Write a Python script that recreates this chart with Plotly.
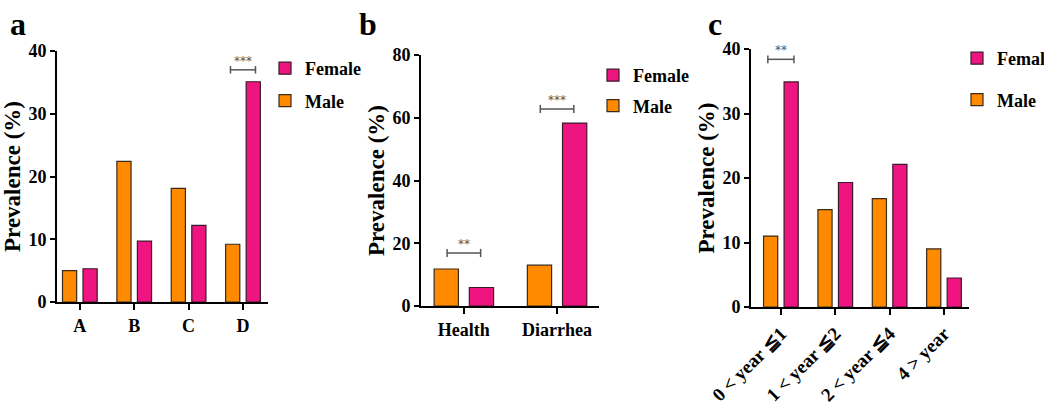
import plotly.graph_objects as go

# ---------------- data ----------------
cat_a = ["A", "B", "C", "D"]
male_a = [5.0, 22.4, 18.1, 9.2]
female_a = [5.3, 9.7, 12.2, 35.1]

cat_b = ["Health", "Diarrhea"]
male_b = [11.8, 13.0]
female_b = [5.9, 58.3]

cat_c = ["0 < year \u22661", "1 < year \u22662", "2 < year \u22664", "4 > year"]
male_c = [11.0, 15.1, 16.8, 9.0]
female_c = [34.9, 19.3, 22.1, 4.5]

# significance brackets: (panel, category index, y value, label)
sig = [
    ("a", 3, 37.0, "***"),
    ("b", 0, 16.9, "**"),
    ("b", 1, 62.8, "***"),
    ("c", 0, 38.4, "**"),
]

ORANGE = "#FF8A00"
PINK = "#EE1580"
FONT = "Liberation Serif, Times New Roman, serif"

fig = go.Figure()

panels = {
    "a": dict(cats=cat_a, male=male_a, female=female_a, xa="x", ya="y", leg="legend"),
    "b": dict(cats=cat_b, male=male_b, female=female_b, xa="x2", ya="y2", leg="legend2"),
    "c": dict(cats=cat_c, male=male_c, female=female_c, xa="x3", ya="y3", leg="legend3"),
}

for key, p in panels.items():
    fig.add_trace(go.Bar(x=p["cats"], y=p["male"], name="Male", xaxis=p["xa"], yaxis=p["ya"],
                         marker=dict(color=ORANGE, line=dict(color="#3a2a1a", width=1.2)),
                         legend=p["leg"], legendgroup=key + "m", legendrank=2, offsetgroup="m"))
    fig.add_trace(go.Bar(x=p["cats"], y=p["female"], name="Female", xaxis=p["xa"], yaxis=p["ya"],
                         marker=dict(color=PINK, line=dict(color="#3a1a2a", width=1.2)),
                         legend=p["leg"], legendgroup=key + "f", legendrank=1, offsetgroup="f"))

W, H = 1044, 414
def dx(a, b):
    return [a / W, b / W]
def dy(top, bottom):
    return [(H - bottom) / H, (H - top) / H]

tickfont = dict(family=FONT, size=18, color="black", weight="bold")
titlefont = dict(family=FONT, size=23, color="black", weight="bold")

def xax(domain, rng, anchor, angle=0, size=18):
    return dict(domain=domain, range=rng, anchor=anchor, type="category",
                showline=True, linecolor="black", linewidth=2, ticks="outside",
                ticklen=6, tickwidth=2, tickcolor="black",
                tickfont=dict(tickfont, size=size), automargin=False,
                showgrid=False, zeroline=False, tickangle=angle, fixedrange=True)

def yax(domain, rng, dtick, anchor):
    return dict(domain=domain, range=rng, anchor=anchor, dtick=dtick,
                showline=True, linecolor="black", linewidth=2, ticks="outside",
                ticklen=5, tickwidth=2, tickcolor="black", tickfont=tickfont,
                showgrid=False, zeroline=False, fixedrange=True, automargin=False,
                title=dict(text="Prevalence (%)", font=titlefont, standoff=1))

def legend_common(gap):
    return dict(font=dict(family=FONT, size=18, color="black", weight="bold"),
                traceorder="grouped", tracegroupgap=gap,
                xanchor="left", yanchor="top", bgcolor="rgba(0,0,0,0)")

fig.update_layout(
    width=W, height=H, margin=dict(l=0, r=0, t=0, b=0, autoexpand=False),
    paper_bgcolor="white", plot_bgcolor="white",
    bargap=0.245, bargroupgap=0.31, barmode="group",
    xaxis=xax(dx(57, 268), [-0.42, 3.46], "y"),
    yaxis=yax(dy(51, 302), [0, 40], 10, "x"),
    xaxis2=xax(dx(421, 599), [-0.46, 1.45], "y2"),
    yaxis2=yax(dy(55, 306), [0, 80], 20, "x2"),
    xaxis3=xax(dx(751, 969), [-0.55, 3.46], "y3", angle=-45, size=19),
    yaxis3=yax(dy(49, 307), [0, 40], 10, "x3"),
    legend=dict(x=265 / W, y=1 - 50 / H, **legend_common(6)),
    legend2=dict(x=593 / W, y=1 - 57 / H, **legend_common(4)),
    legend3=dict(x=957 / W, y=1 - 40 / H, **legend_common(15)),
)

# panel letters
for letter, px in [("a", 8), ("b", 357), ("c", 706)]:
    fig.add_annotation(text=letter, xref="paper", yref="paper", x=px / W, y=1 - 24 / H,
                       xanchor="left", yanchor="middle", showarrow=False,
                       font=dict(family=FONT, size=32, color="black", weight="bold"))

# significance brackets
axes = {"a": ("x", "y", 0.6), "b": ("x2", "y2", 1.3), "c": ("x3", "y3", 0.6)}
half = {"a": 0.23, "b": 0.18, "c": 0.24}
for key, idx, yv, lab in sig:
    xr, yr, cap = axes[key]
    h = half[key]
    x0, x1 = idx - h, idx + h
    line = dict(color="#555555", width=1.5)
    fig.add_shape(type="line", xref=xr, yref=yr, x0=x0, x1=x1, y0=yv, y1=yv, line=line)
    fig.add_shape(type="line", xref=xr, yref=yr, x0=x0, x1=x0, y0=yv - cap, y1=yv + cap, line=line)
    fig.add_shape(type="line", xref=xr, yref=yr, x0=x1, x1=x1, y0=yv - cap, y1=yv + cap, line=line)
    fig.add_annotation(text=lab, xref=xr, yref=yr, x=idx, y=yv, yanchor="bottom",
                       showarrow=False, yshift=0,
                       font=dict(family="DejaVu Sans", size=12, color="#555555"))

fig.write_html("out.html", config={"displayModeBar": False},
               post_script="document.body.style.margin='0';document.body.style.overflow='hidden';")
